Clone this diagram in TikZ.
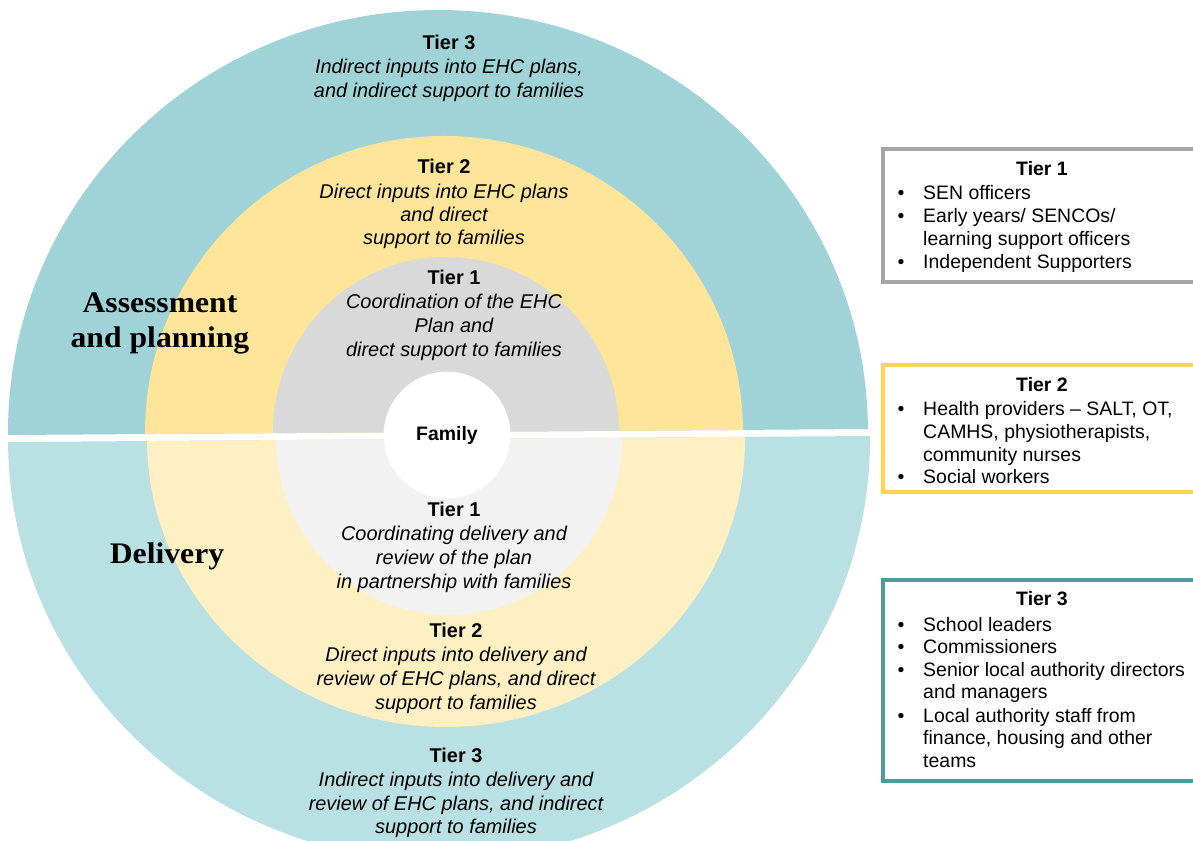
\documentclass[tikz,border=0pt]{standalone}
\usepackage{fontspec}
\setmainfont{Liberation Sans}
\newfontfamily\serifbold[FakeStretch=1.06]{Liberation Serif}
\definecolor{tealA}{HTML}{A0D3D7}
\definecolor{yellowA}{HTML}{FEE599}
\definecolor{greyA}{HTML}{D9D9D9}
\definecolor{tealB}{HTML}{B9E0E3}
\definecolor{yellowB}{HTML}{FFF0C3}
\definecolor{greyB}{HTML}{F2F2F2}
\definecolor{bordA}{HTML}{A6A6A6}
\definecolor{bordB}{HTML}{FFD54F}
\definecolor{bordC}{HTML}{4E9A9C}
\tikzset{
  ctitle/.style={anchor=base,inner sep=0pt,font=\fontsize{17pt}{20pt}\selectfont\bfseries},
  ctext/.style={anchor=base,inner sep=0pt,font=\fontsize{17pt}{20pt}\selectfont\itshape},
  sect/.style={anchor=base,inner sep=0pt,font=\fontsize{25.5pt}{30pt}\selectfont\serifbold\bfseries},
  btitle/.style={anchor=base,inner sep=0pt,font=\fontsize{16.6pt}{20pt}\selectfont\bfseries},
  btext/.style={anchor=base west,inner sep=0pt,font=\fontsize{16.6pt}{20pt}\selectfont},
  bul/.style={anchor=base,inner sep=0pt,font=\fontsize{16.6pt}{20pt}\selectfont},
  tbox/.style={line width=2.6pt,fill=white},
}
\begin{document}
\begin{tikzpicture}[x=0.03cm,y=-0.03cm]
\useasboundingbox (0,0) rectangle (1193,841);
\clip (0,0) rectangle (1193,841);
\fill[white] (0,0) rectangle (1193,841);
% rings
\begin{scope}[rotate around={0.4:(440,435)}]
  \fill[tealA] (8,432) arc[start angle=180,end angle=360,x radius=430,y radius=422] -- cycle;
  \fill[yellowA] (145,432) arc[start angle=180,end angle=360,x radius=299,y radius=296] -- cycle;
  \fill[greyA] (273,432) arc[start angle=180,end angle=360,x radius=173,y radius=175] -- cycle;
  \fill[tealB] (8,439) arc[start angle=180,end angle=0,x radius=431,y radius=422] -- cycle;
  \fill[yellowB] (147,439) arc[start angle=180,end angle=0,x radius=299,y radius=288] -- cycle;
  \fill[greyB] (276,439) arc[start angle=180,end angle=0,x radius=173,y radius=176] -- cycle;
\end{scope}
\node[circle,fill=white,minimum size=3.8cm,inner sep=0pt,font=\fontsize{16.6pt}{20pt}\selectfont\bfseries] (family) at (447,435) {Family};
% section labels
\node[sect] (ass1) at (160,312) {Assessment};
\node[sect] (ass2) at (160,347) {and planning};
\node[sect] (deliv) at (167,563) {Delivery};
% top tier 3
\node[ctitle] (a31) at (449,49) {Tier 3};
\node[ctext] (a32) at (449,73) {Indirect inputs into EHC plans,};
\node[ctext] (a33) at (449,97) {and indirect support to families};
% top tier 2
\node[ctitle] (a21) at (444,173) {Tier 2};
\node[ctext] (a22) at (444,198) {Direct inputs into EHC plans};
\node[ctext] (a23) at (444,221) {and direct};
\node[ctext] (a24) at (444,244) {support to families};
% top tier 1
\node[ctitle] (a11) at (454,284) {Tier 1};
\node[ctext] (a12) at (454,308) {Coordination of the EHC};
\node[ctext] (a13) at (454,332) {Plan and};
\node[ctext] (a14) at (454,356) {direct support to families};
% bottom tier 1
\node[ctitle] (d11) at (454,516) {Tier 1};
\node[ctext] (d12) at (454,540) {Coordinating delivery and};
\node[ctext] (d13) at (454,564) {review of the plan};
\node[ctext] (d14) at (454,588) {in partnership with families};
% bottom tier 2
\node[ctitle] (d21) at (456,637) {Tier 2};
\node[ctext] (d22) at (456,661) {Direct inputs into delivery and};
\node[ctext] (d23) at (456,685) {review of EHC plans, and direct};
\node[ctext] (d24) at (456,709) {support to families};
% bottom tier 3
\node[ctitle] (d31) at (456,762) {Tier 3};
\node[ctext] (d32) at (456,786) {Indirect inputs into delivery and};
\node[ctext] (d33) at (456,810) {review of EHC plans, and indirect};
\node[ctext] (d34) at (456,833) {support to families};
% boxes
\draw[tbox,draw=bordA] (883,149) rectangle (1205,282);
\draw[tbox,draw=bordB] (883,365) rectangle (1205,492);
\draw[tbox,draw=bordC] (883,580) rectangle (1205,781);
% box 1
\node[btitle] (b1t) at (1042,175) {Tier 1};
\node[bul] (b1b1) at (901,199) {•};
\node[btext] (b1l1) at (923,199) {SEN officers};
\node[bul] (b1b2) at (901,222) {•};
\node[btext] (b1l2) at (923,222) {Early years/ SENCOs/};
\node[btext] (b1l3) at (923,245) {learning support officers};
\node[bul] (b1b3) at (901,268) {•};
\node[btext] (b1l4) at (923,268) {Independent Supporters};
% box 2
\node[btitle] (b2t) at (1042,391) {Tier 2};
\node[bul] (b2b1) at (901,415) {•};
\node[btext] (b2l1) at (923,415) {Health providers – SALT, OT,};
\node[btext] (b2l2) at (923,438) {CAMHS, physiotherapists,};
\node[btext] (b2l3) at (923,461) {community nurses};
\node[bul] (b2b2) at (901,483) {•};
\node[btext] (b2l4) at (923,483) {Social workers};
% box 3
\node[btitle] (b3t) at (1042,605) {Tier 3};
\node[bul] (b3b1) at (901,631) {•};
\node[btext] (b3l1) at (923,631) {School leaders};
\node[bul] (b3b2) at (901,653) {•};
\node[btext] (b3l2) at (923,653) {Commissioners};
\node[bul] (b3b3) at (901,676) {•};
\node[btext] (b3l3) at (923,676) {Senior local authority directors};
\node[btext] (b3l4) at (923,698) {and managers};
\node[bul] (b3b4) at (901,722) {•};
\node[btext] (b3l5) at (923,722) {Local authority staff from};
\node[btext] (b3l6) at (923,744) {finance, housing and other};
\node[btext] (b3l7) at (923,767) {teams};
\end{tikzpicture}
\end{document}
